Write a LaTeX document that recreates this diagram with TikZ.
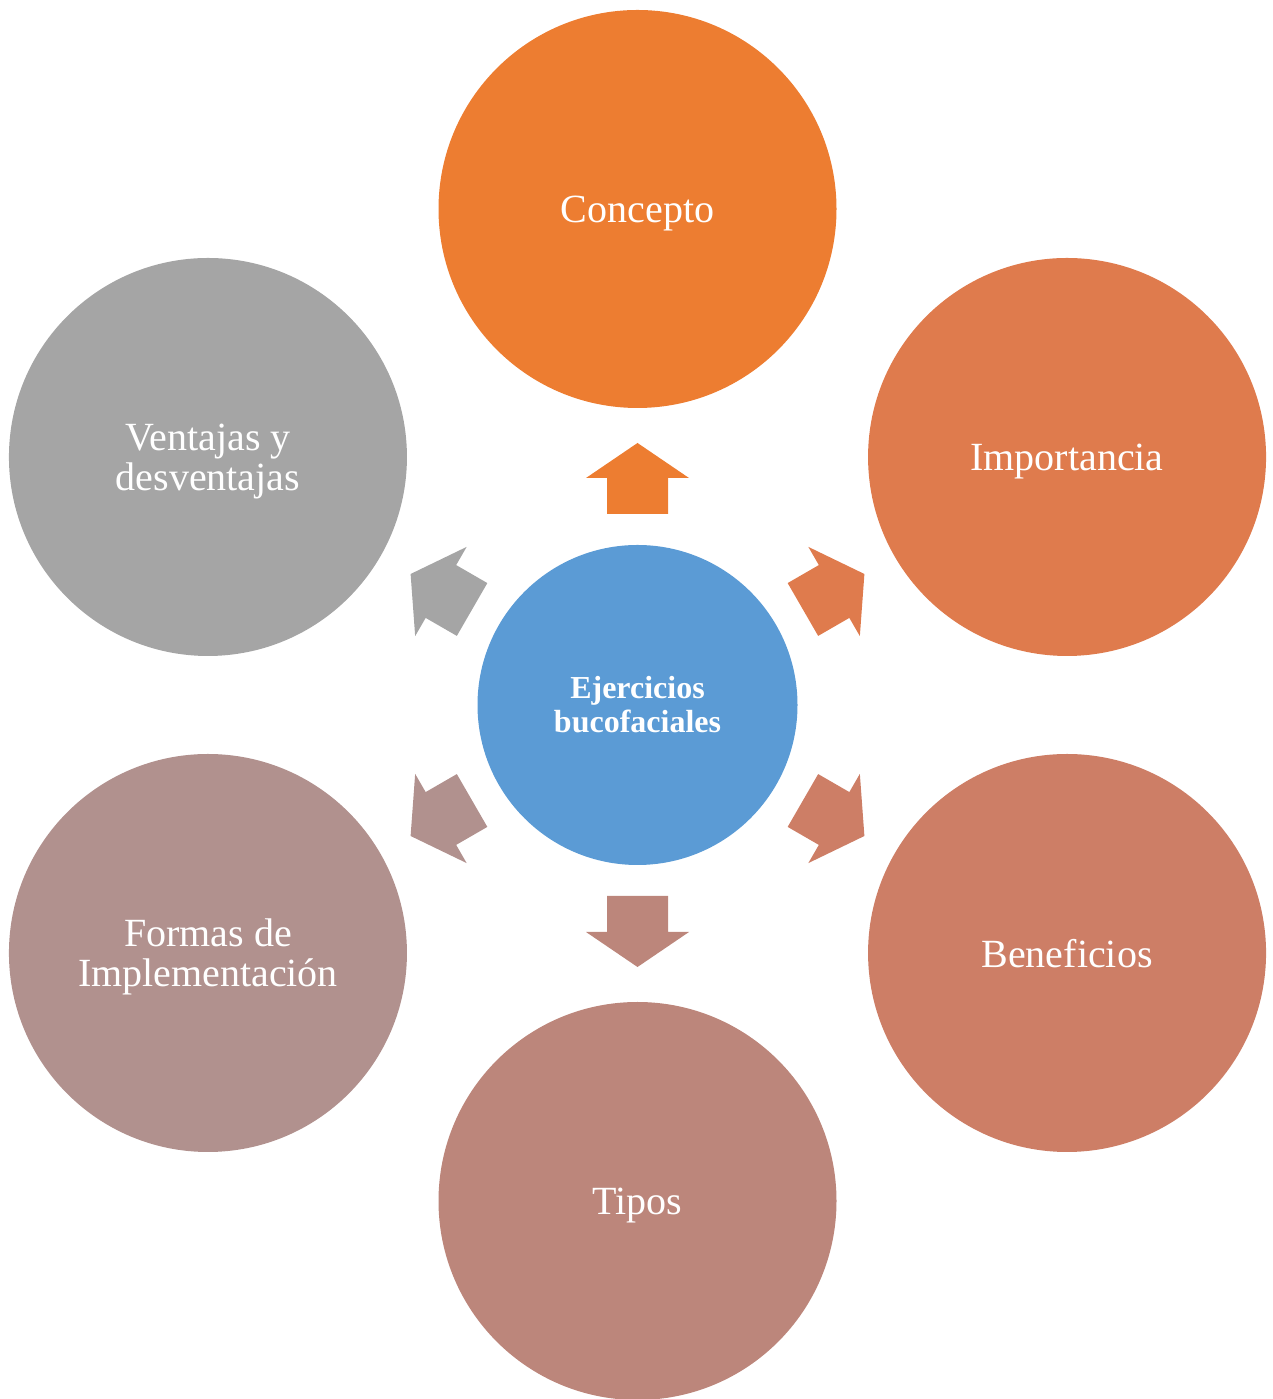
\documentclass[tikz,border=0pt]{standalone}
\usepackage{fontspec}
\setmainfont{Liberation Serif}
\definecolor{cCenter}{HTML}{5B9BD5}
\definecolor{cConcepto}{HTML}{ED7D31}
\definecolor{cImport}{RGB}{223,123,77}
\definecolor{cBenef}{RGB}{205,126,102}
\definecolor{cTipos}{RGB}{188,134,123}
\definecolor{cFormas}{RGB}{177,145,142}
\definecolor{cVent}{RGB}{165,165,165}
\begin{document}
\begin{tikzpicture}[x=1pt,y=1pt,
  outer/.style={circle,minimum size=398pt,inner sep=0pt},
  outertext/.style={text=white,align=center,text depth=0pt,inner sep=0pt,
    font=\fontsize{40}{40}\selectfont},
  hub/.style={circle,minimum size=320pt,inner sep=0pt,fill=cCenter,text=white,align=center,
    font=\fontsize{32}{34}\selectfont\bfseries}]
\useasboundingbox (0,0) rectangle (1272,1399);
\node[hub] (c) at (637.5,694) {Ejercicios\\bucofaciales};
\node[outer,fill=cConcepto,label={[outertext]center:Concepto}] (n1) at ([shift={(90:496)}]c.center) {};
\node[outer,fill=cImport,label={[outertext]center:Importancia}] (n2) at ([shift={(30:496)}]c.center) {};
\node[outer,fill=cBenef,label={[outertext]center:Beneficios}] (n3) at ([shift={(-30:496)}]c.center) {};
\node[outer,fill=cTipos,label={[outertext]center:Tipos}] (n4) at ([shift={(-90:496)}]c.center) {};
\node[outer,fill=cFormas,label={[outertext]center:{Formas de\\Implementación}}] (n5) at ([shift={(-150:496)}]c.center) {};
\node[outer,fill=cVent,label={[outertext]center:{Ventajas y\\desventajas}}] (n6) at ([shift={(150:496)}]c.center) {};
\foreach \a/\col in {90/cConcepto,30/cImport,-30/cBenef,-90/cTipos,-150/cFormas,150/cVent}{
  \begin{scope}[shift={(c.center)},rotate=\a]
    \fill[\col] (191,-30.5) -- (227,-30.5) -- (227,-51.5) -- (262,0) -- (227,51.5) -- (227,30.5) -- (191,30.5) -- cycle;
  \end{scope}
}
\end{tikzpicture}
\end{document}
